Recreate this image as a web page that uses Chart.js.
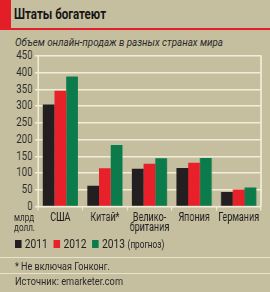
<!DOCTYPE html>
<html>
<head>
<meta charset="utf-8">
<script src="https://cdn.jsdelivr.net/npm/chart.js@4"></script>
<style>
  html, body { margin: 0; padding: 0; }
  body {
    width: 270px; height: 292px; position: relative; overflow: hidden;
    background: #c5bf9f;
    font-family: "Roboto", "DejaVu Sans", sans-serif;
    color: #1e1e1e;
  }
  .abs { position: absolute; white-space: nowrap; }
  .fit { transform-origin: 0 50%; }
  #strip { left: 0; top: 0; width: 11px; height: 30px; background: #e31e26; }
  #topline { left: 0; top: 28px; width: 270px; height: 2px; background: #e31e26; }
  #title { left: 14px; top: 7px; font-size: 14.5px; font-weight: bold; line-height: 16px; color: #151515; }
  #subtitle { left: 15px; top: 35px; font-size: 11.5px; font-style: italic; line-height: 14px; color: #2a2a2a; }
  #chart-box { left: 0; top: 44px; width: 270px; height: 197px; }
  #chart { width: 270px; height: 197px; }
  #units { left: 14px; top: 213px; font-size: 10.5px; line-height: 9.5px; color: #2a2a2a; }
  #legend { left: 15px; top: 236px; font-size: 12.5px; line-height: 15px; color: #1e1e1e; }
  #legend span.sw { display: inline-block; width: 8px; height: 8px; margin-right: 4px; vertical-align: 0px; }
  #legend span.item { margin-right: 7px; }
  #legend small { font-size: 10px; margin-left: 3px; }
  .sep { left: 0; width: 270px; height: 1px; background: #e8e3cc; }
  #note { left: 15px; top: 260px; font-size: 11px; line-height: 14px; color: #2a2a2a; }
  #src { left: 15px; top: 275px; font-size: 11px; line-height: 14px; color: #2a2a2a; }
</style>
</head>
<body>
<div class="abs" id="strip"></div>
<div class="abs" id="topline"></div>
<div class="abs fit" id="title" data-w="92">Штаты богатеют</div>
<div class="abs fit" id="subtitle" data-w="208">Объем онлайн-продаж в разных странах мира</div>
<div class="abs" id="chart-box"><canvas id="chart" width="360" height="197" style="width:270px;height:197px"></canvas></div>
<div class="abs fit" id="units" data-w="21">млрд<br>долл.</div>
<div class="abs fit" id="legend" data-w="155"></div>
<div class="abs sep" style="top:257px"></div>
<div class="abs fit" id="note" data-w="95">* Не включая Гонконг.</div>
<div class="abs sep" style="top:273px"></div>
<div class="abs fit" id="src" data-w="108">Источник: emarketer.com</div>

<script>
// countries on the x axis (multi-line labels as arrays)
const countries = [["США"], ["Китай*"], ["Велико-", "британия"], ["Япония"], ["Германия"]];
const years = ["2011", "2012", "2013"];
const yearNotes = ["", "", "(прогноз)"];
// billions of dollars
const sales2011 = [305, 62, 113, 115, 43];
const sales2012 = [346, 114, 128, 131, 51];
const sales2013 = [389, 184, 144, 145, 57];
const yTicks = [0, 50, 100, 150, 200, 250, 300, 350, 400, 450];

const barColors = ["#231f20", "#e8202a", "#0b7b4b"];
const gridColor = "#f1edd9";
const fontFam = '"Roboto", "DejaVu Sans", sans-serif';
// canvas is drawn 360 wide and shown 270 wide -> condensed text like the original
const sx = 270 / 360;

// legend built from the same arrays
const legend = document.getElementById("legend");
years.forEach((y, i) => {
    const item = document.createElement("span");
    item.className = "item";
    item.innerHTML = '<span class="sw" style="background:' + barColors[i] + '"></span>' + y +
        (yearNotes[i] ? '<small>' + yearNotes[i] + '</small>' : '');
    legend.appendChild(item);
});

// squeeze html text to the widths it has in the original
document.querySelectorAll(".fit").forEach(el => {
    const w = el.getBoundingClientRect().width;
    const target = +el.dataset.w;
    if (w > 0 && target) el.style.transform = "scaleX(" + (target / w) + ")";
});

// right edge of the plot frame
const frame = {
    id: "frame",
    afterDraw(chart) {
        const { ctx, chartArea } = chart;
        ctx.save();
        ctx.strokeStyle = gridColor;
        ctx.lineWidth = 2;
        ctx.beginPath();
        ctx.moveTo(chartArea.right, chartArea.top - 0.75);
        ctx.lineTo(chartArea.right, chartArea.bottom);
        ctx.stroke();
        ctx.restore();
    }
};

new Chart(document.getElementById("chart"), {
    type: "bar",
    plugins: [frame],
    data: {
        labels: countries,
        datasets: [sales2011, sales2012, sales2013].map((d, i) => ({
            label: years[i],
            data: d,
            backgroundColor: barColors[i],
            borderWidth: 0,
            categoryPercentage: 0.79,
            barPercentage: 1.0
        }))
    },
    options: {
        responsive: false,
        animation: false,
        layout: { padding: { top: 12, right: 9 / sx, left: 0, bottom: 0 } },
        plugins: { legend: { display: false }, tooltip: { enabled: false } },
        scales: {
            x: {
                grid: { display: true, drawOnChartArea: false, drawTicks: true, tickLength: 4, color: gridColor, offset: true, lineWidth: 1.5 },
                border: { display: false },
                ticks: { color: "#1e1e1e", font: { family: fontFam, size: 12, lineHeight: 0.8 }, padding: 3, maxRotation: 0, autoSkip: false },
                afterFit(s) { s.height = 34.5; }
            },
            y: {
                min: 0,
                max: 450,
                afterBuildTicks(s) { s.ticks = yTicks.map(v => ({ value: v })); },
                grid: { color: gridColor, lineWidth: 1.5, drawTicks: true, tickLength: 4 },
                border: { display: true, color: gridColor, width: 2 },
                ticks: { color: "#2a2a2a", font: { family: fontFam, size: 13 }, padding: 3, autoSkip: false },
                afterFit(s) { s.width = 38 / sx; }
            }
        }
    }
});
</script>
</body>
</html>
